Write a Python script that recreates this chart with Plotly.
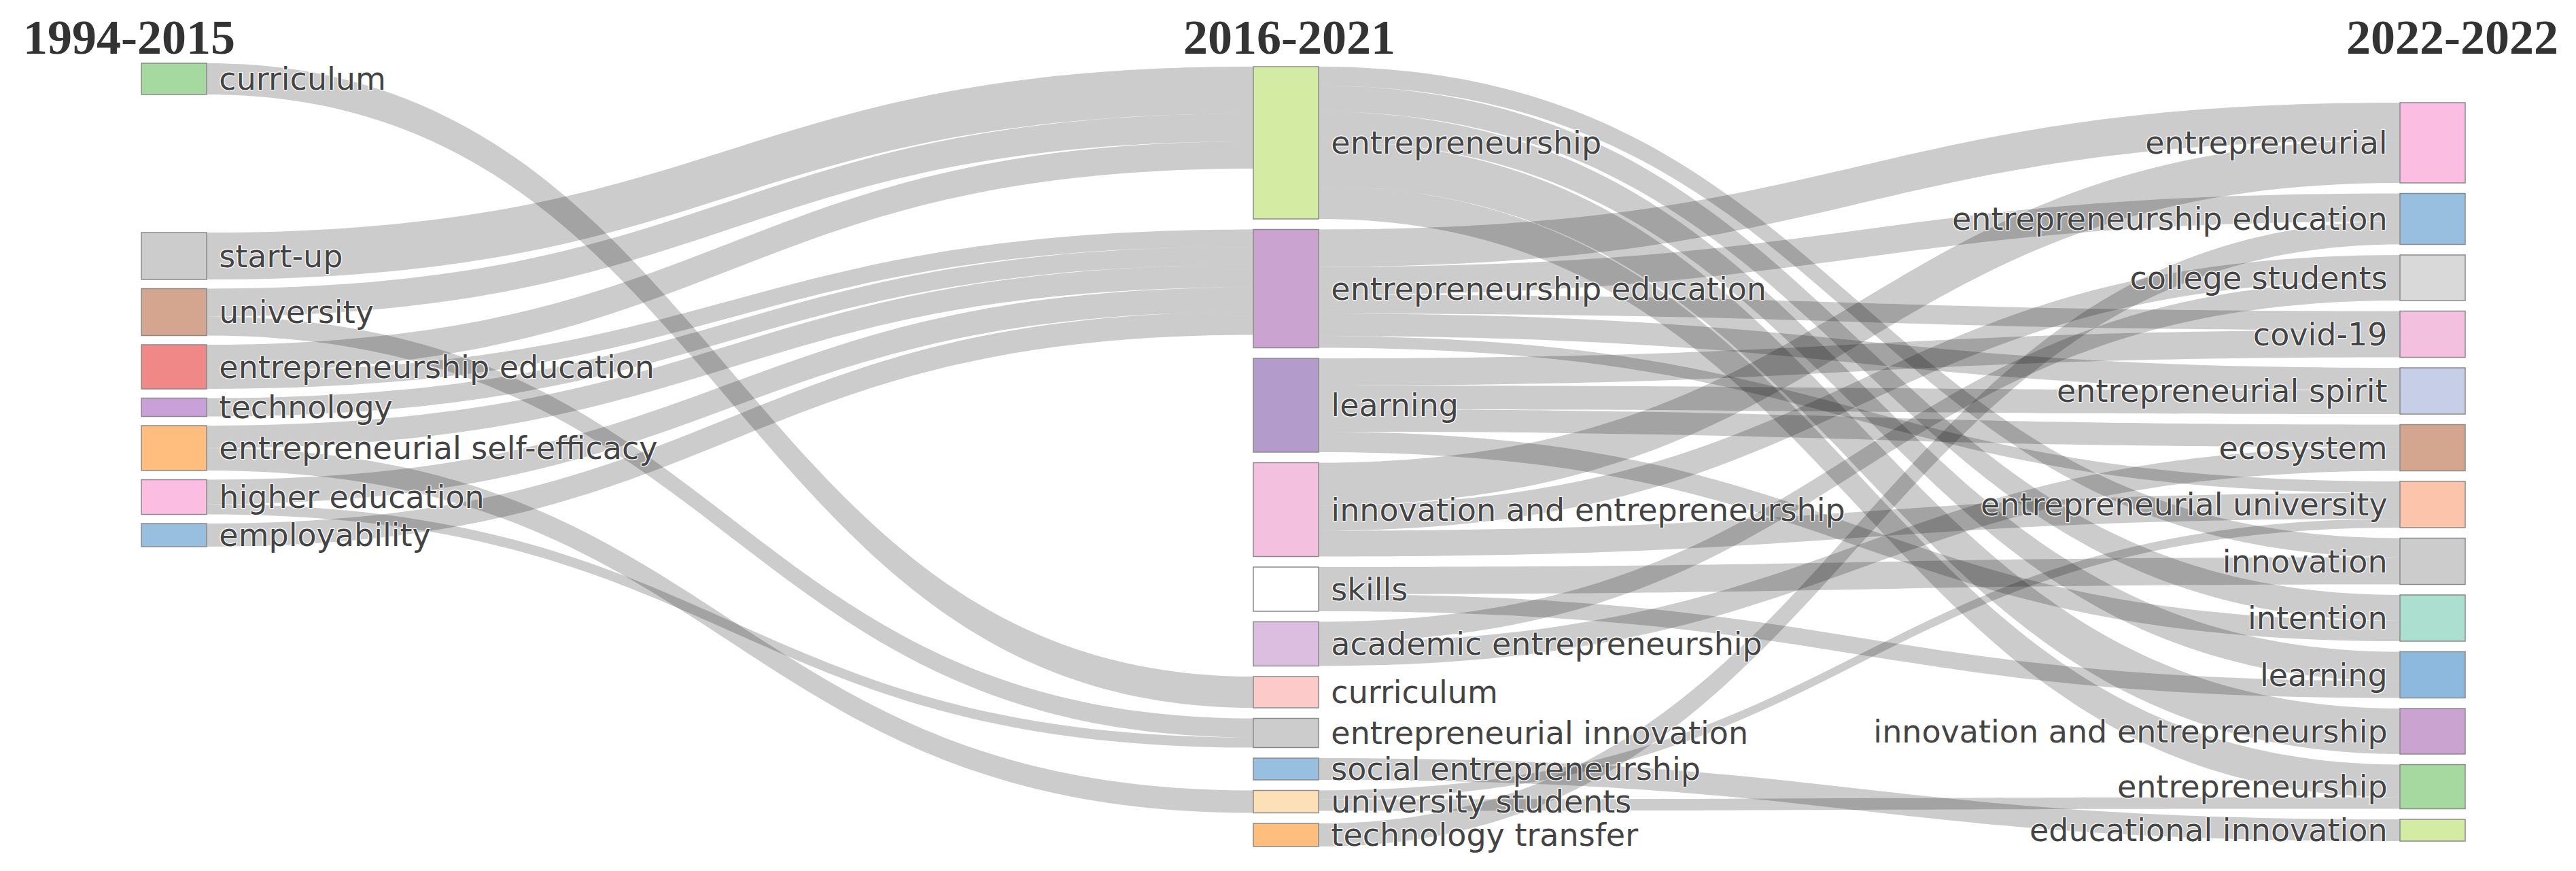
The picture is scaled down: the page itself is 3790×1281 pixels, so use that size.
import plotly.graph_objects as go

# ---------------------------------------------------------------- data ----
periods = ["1994-2015", "2016-2021", "2022-2022"]

themes_p1 = ["curriculum", "start-up", "university", "entrepreneurship education",
             "technology", "entrepreneurial self-efficacy", "higher education",
             "employability"]
colors_p1 = ["#a6d9a0", "#cccccc", "#d4a690", "#f08888", "#c9a0d8", "#ffbe7e",
             "#fbbde2", "#98bfe0"]

themes_p2 = ["entrepreneurship", "entrepreneurship education", "learning",
             "innovation and entrepreneurship", "skills", "academic entrepreneurship",
             "curriculum", "entrepreneurial innovation", "social entrepreneurship",
             "university students", "technology transfer"]
colors_p2 = ["#d4eba4", "#cba3d0", "#b39ccb", "#f3c0e0", "#ffffff", "#dcbfe0",
             "#fdcaca", "#cccccc", "#98bfe0", "#fde0b8", "#ffbe7e"]

themes_p3 = ["entrepreneurial", "entrepreneurship education", "college students",
             "covid-19", "entrepreneurial spirit", "ecosystem",
             "entrepreneurial university", "innovation", "intention", "learning",
             "innovation and entrepreneurship", "entrepreneurship",
             "educational innovation"]
colors_p3 = ["#fbbde2", "#98bfe0", "#d9d9d9", "#f3c0e0", "#c6cee8", "#d4a690",
             "#fdc4ac", "#cccccc", "#acdfd0", "#8cb9dd", "#cba3d0", "#a6d9a0",
             "#d4eba4"]

# 1994-2015 -> 2016-2021
flow1_from = ["curriculum", "start-up", "university", "university",
              "entrepreneurship education", "entrepreneurship education", "technology",
              "entrepreneurial self-efficacy", "entrepreneurial self-efficacy",
              "higher education", "higher education", "employability"]
flow1_to = ["curriculum", "entrepreneurship", "entrepreneurship",
            "entrepreneurial innovation", "entrepreneurship",
            "entrepreneurship education", "entrepreneurship education",
            "entrepreneurship education", "university students",
            "entrepreneurship education", "entrepreneurial innovation",
            "entrepreneurship education"]
flow1_val = [46, 69, 41, 28, 40, 25, 27, 33, 33, 36, 15, 34]

# 2016-2021 -> 2022-2022
flow2_from = ["entrepreneurship"] * 5 + ["entrepreneurship education"] * 5 + \
             ["learning"] * 4 + ["innovation and entrepreneurship"] * 3 + \
             ["skills"] * 2 + ["academic entrepreneurship"] * 2 + \
             ["social entrepreneurship", "technology transfer",
              "university students", "university students"]
flow2_to = ["innovation", "intention", "learning", "innovation and entrepreneurship",
            "entrepreneurship",
            "entrepreneurial", "entrepreneurship education", "covid-19",
            "entrepreneurial spirit", "entrepreneurial university",
            "covid-19", "entrepreneurial spirit", "ecosystem", "intention",
            "entrepreneurial", "college students", "entrepreneurial university",
            "innovation", "learning",
            "college students", "ecosystem",
            "educational innovation", "entrepreneurship education",
            "entrepreneurial university", "entrepreneurship"]
flow2_val = [28, 38, 43, 67, 48,
             55, 41, 28, 33, 17,
             40, 35, 33, 30,
             63, 37, 38,
             40, 25,
             30, 35,
             32, 34, 13, 17]

# -------------------------------------------------------------- layout ----
W, H = 3790, 1281
col_x = [248, 1884, 3571]          # node centres (px)
col_top = [85, 90, 143]            # top of first node (px)
col_gap = [13.5, 15.5, 15.5]       # gap between stacked nodes (px)
first_gap_p1 = 203                 # curriculum sits apart at the top of 1994-2015
thickness = 96
pad_txt = "\u00a0"                 # a little air between node and label

columns = [themes_p1, themes_p2, themes_p3]
labels, colors = [], []
for c, (names, cols) in enumerate(zip(columns, [colors_p1, colors_p2, colors_p3])):
    if c < 2:
        labels += [pad_txt + s for s in names]
    else:
        labels += [s + pad_txt for s in names]
    colors += cols
offset = [0, len(themes_p1), len(themes_p1) + len(themes_p2)]

src, tgt, val = [], [], []
for a, b, v in zip(flow1_from, flow1_to, flow1_val):
    src.append(offset[0] + themes_p1.index(a))
    tgt.append(offset[1] + themes_p2.index(b))
    val.append(v)
for a, b, v in zip(flow2_from, flow2_to, flow2_val):
    src.append(offset[1] + themes_p2.index(a))
    tgt.append(offset[2] + themes_p3.index(b))
    val.append(v)

n = len(labels)
v_in, v_out = [0] * n, [0] * n
outs = [[] for _ in range(n)]
for s, t, v in zip(src, tgt, val):
    v_out[s] += v
    v_in[t] += v
    outs[s].append(t)
node_val = [max(a, b) for a, b in zip(v_in, v_out)]

# d3-sankey (justify) layering -> padding that gives 1 px per unit
depth, cur, d = [0] * n, set(range(n)), 0
while cur:
    nxt = set()
    for i in cur:
        depth[i] = d
        nxt.update(outs[i])
    cur, d = nxt, d + 1
layer = [depth[i] if outs[i] else d - 1 for i in range(n)]
pads = []
for k in range(d):
    members = [i for i in range(n) if layer[i] == k]
    if len(members) > 1:
        pads.append((H - sum(node_val[i] for i in members)) / (len(members) - 1))
pad = min(pads)

# stack node centres in each period column
node_x, node_y = [], []
for c in range(3):
    y = col_top[c]
    for j in range(len(columns[c])):
        i = offset[c] + j
        if c == 0 and j == 1:
            y += first_gap_p1 - col_gap[0]
        node_x.append(col_x[c] / W)
        node_y.append((y + node_val[i] / 2) / H)
        y += node_val[i] + col_gap[c]

fig = go.Figure(go.Sankey(
    arrangement="fixed",
    node=dict(label=labels, color=colors, x=node_x, y=node_y, pad=pad,
              thickness=thickness, line=dict(color="#8a8a8a", width=1.5)),
    link=dict(source=src, target=tgt, value=val, color="rgba(0,0,0,0.2)"),
    textfont=dict(family="DejaVu Sans", size=46, color="#444444"),
))

ann_x = [24 / W, 1889 / W, 3758 / W]
ann_anchor = ["left", "center", "right"]
for p, x, a in zip(periods, ann_x, ann_anchor):
    fig.add_annotation(text="<b>" + p + "</b>", x=x, y=1 - 47 / H, xref="paper",
                       yref="paper", xanchor=a, yanchor="middle", showarrow=False,
                       font=dict(family="Liberation Serif", size=72, color="#333333"))

fig.update_layout(width=W, height=H, margin=dict(l=0, r=0, t=0, b=0),
                  paper_bgcolor="white", plot_bgcolor="white")
fig.write_html("out.html")
